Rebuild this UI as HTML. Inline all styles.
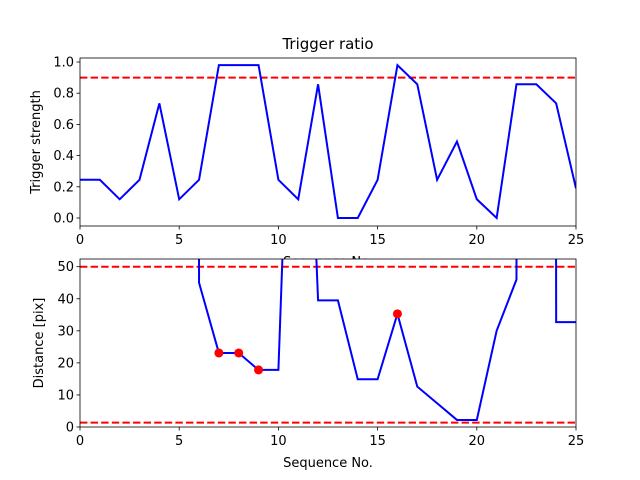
<!DOCTYPE html>
<html><head><meta charset="utf-8">
<style>body{margin:0;background:#fff}svg{display:block;font-family:"DejaVu Sans","Liberation Sans",sans-serif}</style>
</head><body>
<svg id="chart" width="640" height="480" viewBox="0 0 640 480">
<defs>
<clipPath id="c1"><rect x="80" y="58" width="496" height="168"/></clipPath>
<clipPath id="c2"><rect x="80" y="259" width="496" height="168"/></clipPath>
</defs>
</svg>
<script>
const seq = [0,1,2,3,4,5,6,7,8,9,10,11,12,13,14,15,16,17,18,19,20,21,22,23,24,25];
const triggerStrength = [0.245,0.245,0.12,0.245,0.735,0.12,0.245,0.98,0.98,0.98,0.245,0.12,0.857,0,0,0.245,0.98,0.857,0.245,0.49,0.12,0,0.857,0.857,0.735,0.19];
const distance = [5000,5000,5000,5000,5000,5000,45,23.1,23.1,17.8,17.8,190,39.5,39.5,14.9,14.9,35.3,12.6,7.4,2.2,2.2,30,46,5000,32.7,32.7];
const markedIdx = [7,8,9,16];
const triggerThreshold = 0.9;
const distThresholds = [50,1.35];
const topTicks = [0,0.2,0.4,0.6,0.8,1.0];
const botTicks = [0,10,20,30,40,50];
const xTicks = [0,5,10,15,20,25];

const NS="http://www.w3.org/2000/svg";
const svg=document.getElementById('chart');
function mk(tag,attrs,parent){const e=document.createElementNS(NS,tag);for(const k in attrs)e.setAttribute(k,attrs[k]);(parent||svg).appendChild(e);return e;}
const X0=80,X1=576;
const xs=v=>X0+(v-0)/(25-0)*(X1-X0);
const yTop=v=>218-v*156;
const yBot=v=>427-v*(427-266.7)/50;

function axes(top,bottom,ys,ticks,fmt,nm){
  const bg=mk('rect',{x:X0,y:top,width:X1-X0,height:bottom-top,fill:'#fff'});
  
  
  ticks.forEach(t=>{
    const y=ys(t);
    const l=mk('line',{x1:X0-3.5,x2:X0,y1:y,y2:y,stroke:'#000','stroke-width':0.8});
    
    
    const tx=mk('text',{x:X0-6,y:y+4.5,'text-anchor':'end','font-size':13});
    tx.textContent=fmt(t);
    
    
  });
  xTicks.forEach(t=>{
    const x=xs(t);
    const l=mk('line',{x1:x,x2:x,y1:bottom,y2:bottom+3.5,stroke:'#000','stroke-width':0.8});
    
    
    const tx=mk('text',{x:x,y:bottom+18,'text-anchor':'middle','font-size':13});
    tx.textContent=t;
    
    
  });
}
function frame(top,bottom,nm){
  const f=mk('rect',{x:X0,y:top,width:X1-X0,height:bottom-top,fill:'none',stroke:'#000','stroke-width':0.8});
  
  
}

axes(58,226,yTop,topTicks,v=>v.toFixed(1),'top');
const g1=mk('g',{'clip-path':'url(#c1)'});
const th=mk('line',{x1:X0,x2:X1,y1:yTop(triggerThreshold),y2:yTop(triggerThreshold),stroke:'#f00','stroke-width':2,'stroke-dasharray':'7.4,3.2'},g1);


const p1=mk('polyline',{points:seq.map((s,i)=>xs(s)+','+yTop(triggerStrength[i])).join(' '),fill:'none',stroke:'#00f','stroke-width':2},g1);


frame(58,226,'top');
let t=mk('text',{x:328,y:49,'text-anchor':'middle','font-size':15});t.textContent='Trigger ratio';


t=mk('text',{x:0,y:0,'text-anchor':'middle','font-size':13,transform:'translate(40,142) rotate(-90)'});t.textContent='Trigger strength';


t=mk('text',{x:328,y:266,'text-anchor':'middle','font-size':13});t.textContent='Sequence No.';



axes(259,427,yBot,botTicks,v=>String(v),'bottom');
const g2=mk('g',{'clip-path':'url(#c2)'});
distThresholds.forEach(v=>{
  const l=mk('line',{x1:X0,x2:X1,y1:yBot(v),y2:yBot(v),stroke:'#f00','stroke-width':2,'stroke-dasharray':'7.4,3.2'},g2);
  
  
});
const p2=mk('polyline',{points:seq.map((s,i)=>xs(s)+','+yBot(distance[i])).join(' '),fill:'none',stroke:'#00f','stroke-width':2},g2);


markedIdx.forEach(i=>{
  const c=mk('circle',{cx:xs(seq[i]),cy:yBot(distance[i]),r:4.5,fill:'#f00'},g2);
  
  
});
frame(259,427,'bottom');
t=mk('text',{x:0,y:0,'text-anchor':'middle','font-size':13,transform:'translate(43,343) rotate(-90)'});t.textContent='Distance [pix]';


t=mk('text',{x:328,y:467,'text-anchor':'middle','font-size':13});t.textContent='Sequence No.';


</script>
</body></html>
